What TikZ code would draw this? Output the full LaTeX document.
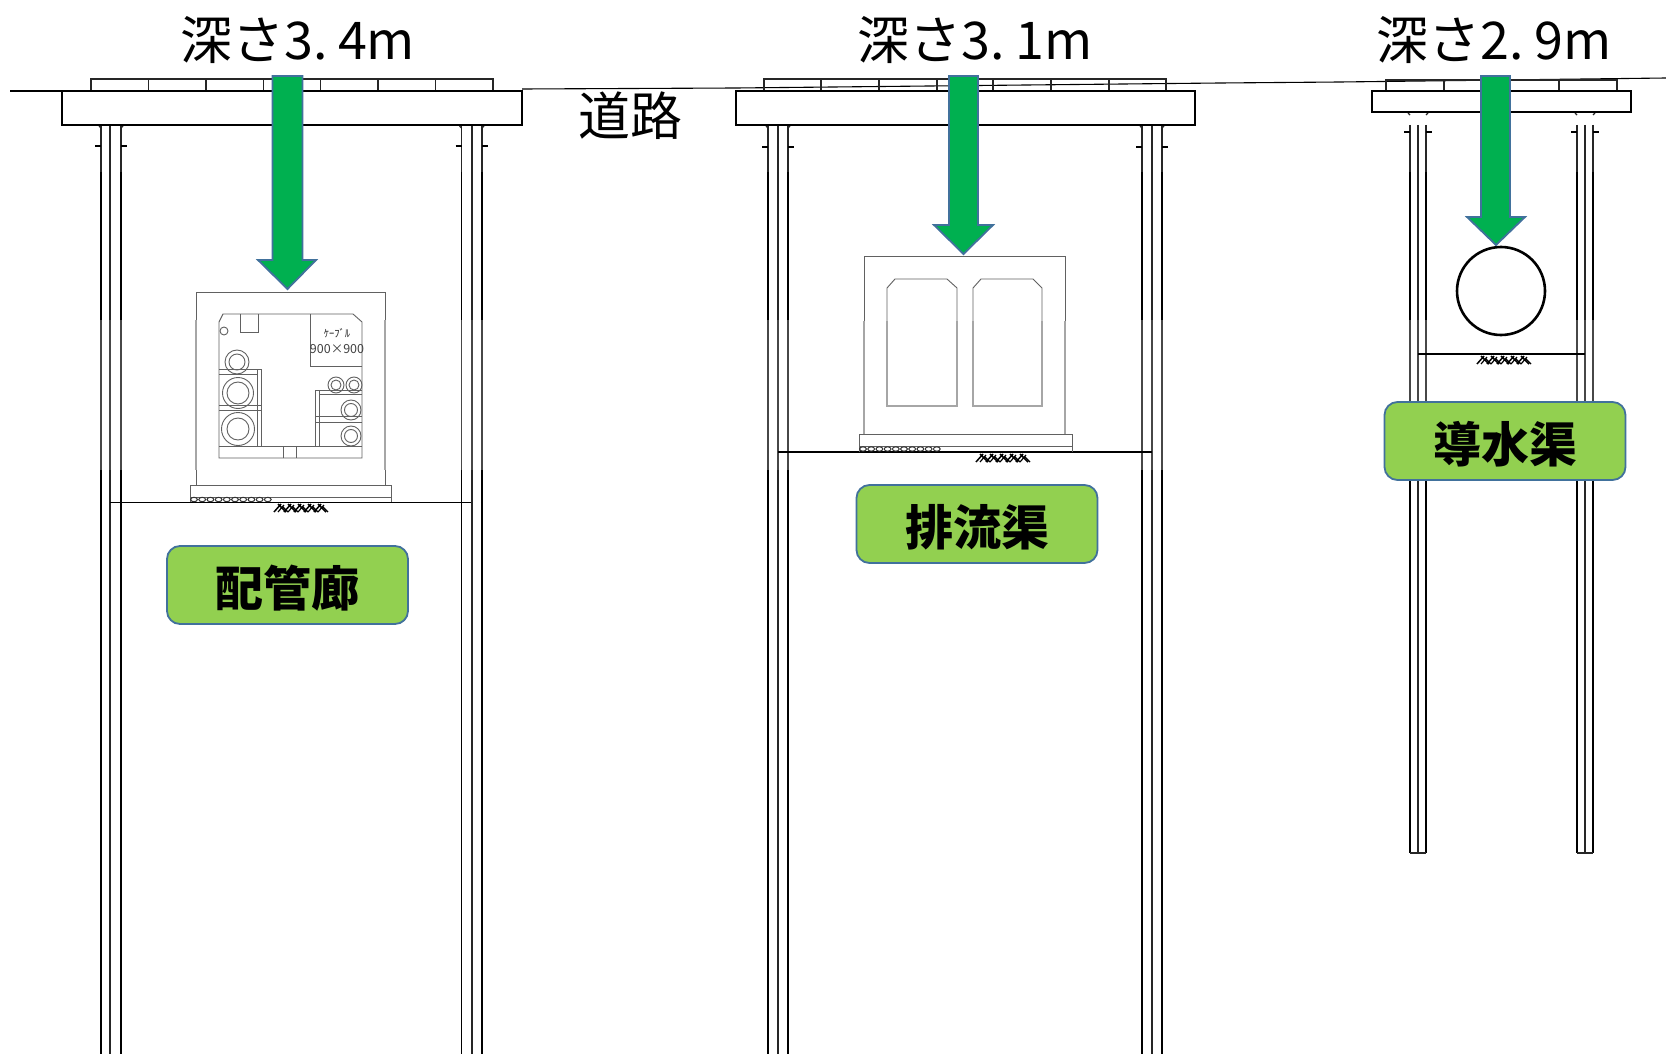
\documentclass[tikz,border=0pt]{standalone}
\usepackage{fontspec}
\setmainfont{Noto Sans CJK JP}
\definecolor{arrowgreen}{HTML}{00B050}
\definecolor{arrowedge}{HTML}{41719C}
\definecolor{labelgreen}{HTML}{92D050}
\tikzset{
  ink/.style={draw=black,line width=1.8pt},
  inkthin/.style={draw=black!85,line width=1.2pt},
  inkfade/.style={draw=black!72,line width=1.5pt},
  cad/.style={draw=black!62,line width=.9pt},
  cadfade/.style={draw=black!35,line width=1.4pt},
  slab/.style={draw=black,line width=1.8pt,fill=white},
  deptharrow/.style={draw=arrowedge,line width=1.8pt,fill=arrowgreen,line join=miter},
  depthlabel/.style={font=\fontsize{52}{52}\selectfont,inner sep=0pt,text=black},
  tag/.style={draw=arrowedge,line width=1.8pt,fill=labelgreen,rounded corners=13pt,minimum width=241pt,minimum height=78pt,inner sep=0pt,font=\bfseries\fontsize{48}{48}\selectfont,text=black},
}
\newcommand{\tagtext}[1]{\raisebox{-21pt}[0pt][0pt]{#1}}
\newcommand{\pilepair}[4]{%
  \draw[inkthin] (#1,125) -- (#1,172) (#2,125) -- (#2,172) (#3,125) -- (#3,172);
  \draw[ink] (#1,172) -- (#1,320) (#3,172) -- (#3,320);
  \draw[inkthin] (#2,172) -- (#2,320);
  \draw[inkfade] (#1,320) -- (#1,470) (#2,320) -- (#2,470) (#3,320) -- (#3,470);
  \draw[ink] (#1,470) -- (#1,#4) (#3,470) -- (#3,#4);
  \draw[inkthin] (#2,470) -- (#2,#4);
}
\newcommand{\pileticks}[4]{%
  \draw[ink] (#1-6,#4) -- (#1,#4) (#3,#4) -- (#3+6,#4);
  \draw[inkthin] (#1-2,#2) -- (#1,#2+2) (#3+2,#2) -- (#3,#2+2);
}
\newcommand{\groundmark}[2]{%
  \foreach \k in {0,...,4}{
    \draw[black,line width=1.5pt] (#1+\k*10,#2+9) -- (#1+\k*10+7,#2+1) (#1+\k*10+4,#2+1) -- (#1+\k*10+12,#2+9);
    \draw[black,line width=1.2pt] (#1+\k*10+4,#2+9) -- (#1+\k*10+10,#2+2) (#1+\k*10+8,#2+3) -- (#1+\k*10+14,#2+9);
  }
}
\newcommand{\gravel}[3]{%
  \foreach \k in {0,...,9}{
    \draw[black!80,line width=1pt] (#1+\k*8.2+4,#3) ellipse (3.4 and 2.2);
  }
}
\begin{document}
\begin{tikzpicture}[x=1pt,y=-1pt]
\useasboundingbox (0,0) rectangle (1666,1054);
\fill[white] (0,0) rectangle (1666,1054);
%% piles
\pilepair{101}{110}{121}{1054}
\pilepair{461.5}{472}{482}{1054}
\pilepair{768}{778}{788}{1054}
\pilepair{1142}{1152}{1162}{1054}
\pilepair{1410}{1418}{1426}{853}
\pilepair{1577}{1585}{1593}{853}
\draw[inkthin] (1410,853) -- (1426,853) (1577,853) -- (1593,853);
\pileticks{101}{126}{121}{146}
\pileticks{461.5}{126}{482}{146}
\pileticks{768}{126}{788}{147}
\pileticks{1142}{126}{1162}{147}
\pileticks{1410}{113}{1426}{132}
\pileticks{1577}{113}{1593}{132}
%% road surface
\draw[black,line width=1.1pt] (10,91) -- (62,91);
\draw[black,line width=1.1pt] (522,89) -- (736,88) -- (1220,83) -- (1340,82) -- (1666,78);
%% road plates
\draw[inkthin,line width=1.5pt] (91,90) -- (91,79) -- (493,79) -- (493,90);
\foreach \a in {148.4,205.9,263.3,320.7,378.1,435.6}{\draw[inkthin,line width=1.5pt] (\a,79) -- (\a,90);}
\draw[inkthin,line width=1.5pt] (764,90) -- (764,79) -- (1166,79) -- (1166,90);
\foreach \a in {821,879,937,993,1051,1109}{\draw[inkthin,line width=1.5pt] (\a,79) -- (\a,90);}
\draw[inkthin,line width=1.5pt] (1386,91) -- (1386,80) -- (1617,80) -- (1617,91);
\foreach \a in {1444,1502,1559}{\draw[inkthin,line width=1.5pt] (\a,80) -- (\a,91);}
%% slabs
\draw[slab] (62,91) rectangle (522,125);
\draw[slab] (736,91) rectangle (1195,125);
\draw[slab] (1372,91) rectangle (1631,112);
%% floors
\draw[black,line width=1.4pt] (110,502.5) -- (471,502.5);
\draw[black,line width=1.4pt] (778,452) -- (1152,452);
\draw[black,line width=1.4pt] (1418,354) -- (1585,354);
%% culvert 1
\draw[cad] (196,320) -- (196,292) -- (385,292) -- (385,320);
\draw[cadfade] (196,320) -- (196,470) (385,320) -- (385,470);
\draw[cad] (196,470) -- (196,485) (385,470) -- (385,485);
\draw[cad] (190,502) -- (190,485) -- (391,485) -- (391,502) (190,497) -- (391,497);
\gravel{190}{273}{499.5}
\groundmark{274}{503}
\draw[cad] (219,458) -- (219,322) -- (223,314) -- (353,314) -- (362,322) -- (362,458) -- cycle;
\draw[cad] (219,446) -- (362,446);
\draw[cad] (283,458) -- (283,446) -- (296,446) -- (296,458);
\draw[cad] (240,314) -- (240,332) -- (258,332) -- (258,314);
\draw[cad] (224,331) circle (4);
\draw[cad] (310,314) -- (310,366) -- (362,366);
\node[inner sep=0pt,font=\fontsize{10.5}{10.5}\selectfont,text=black!85] (cablename) at (337,333) {ｹｰﾌﾞﾙ};
\node[inner sep=0pt,font=\fontsize{12.5}{12.5}\selectfont,text=black!75] (cablesize) at (337,349) {900×900};
\foreach \cx/\cy/\ra/\rb in {237/362/12/8,238/393/15.5/11,238/429/16.5/11,336/385/8/5,354/385/8/5,351/410/10/6.5,351/436/10/6.5}{
  \draw[cad] (\cx,\cy) circle (\ra);
  \draw[cad] (\cx,\cy) circle (\rb);
}
\draw[cad] (219,369) -- (261,369) (219,374) -- (257,374) (219,405) -- (261,405) (219,410) -- (261,410);
\draw[cad] (257,369) -- (257,446) (261,369) -- (261,446);
\draw[cad] (315,390) -- (362,390) (319,394) -- (362,394) (315,416) -- (362,416) (315,422) -- (362,422);
\draw[cad] (315,390) -- (315,446) (319,390) -- (319,446);
%% culvert 2
\draw[cad] (864,321) -- (864,256) -- (1065,256) -- (1065,321);
\draw[cadfade] (864,321) -- (864,434) (1065,321) -- (1065,434);
\draw[cad] (859,452) -- (859,434) -- (1072,434) -- (1072,452) (859,446) -- (1072,446);
\gravel{859}{942}{449}
\groundmark{976}{453}
\draw[cad] (887,321) -- (887,288) -- (895,279) -- (947,279) -- (957,288) -- (957,321);
\draw[cadfade] (887,321) -- (887,406) -- (957,406) -- (957,321);
\draw[cad] (973,321) -- (973,288) -- (981,279) -- (1033,279) -- (1042,288) -- (1042,321);
\draw[cadfade] (973,321) -- (973,406) -- (1042,406) -- (1042,321);
%% pipe 3
\draw[black,line width=2.6pt] (1501,291) circle (44);
\groundmark{1477}{355}
%% depth arrows
\draw[deptharrow] (272.5,76) -- (302.5,76) -- (302.5,260) -- (316,260) -- (287.5,289) -- (258,260) -- (272.5,260) -- cycle;
\draw[deptharrow] (949,76) -- (978,76) -- (978,225) -- (993,225) -- (963.5,254) -- (934,225) -- (949,225) -- cycle;
\draw[deptharrow] (1481,76) -- (1510,76) -- (1510,217) -- (1525,217) -- (1496,245) -- (1467,217) -- (1481,217) -- cycle;
%% labels
\node[depthlabel] (d1) at (298,40) {深さ3.\kern10pt 4m};
\node[depthlabel] (d2) at (975,40) {深さ3.\kern10pt 1m};
\node[depthlabel] (d3) at (1494,40) {深さ2.\kern10pt 9m};
\node[inner sep=0pt,font=\fontsize{52}{52}\selectfont] (road) at (630,116) {道路};
\node[tag] (t1) at (287.5,585) {\tagtext{配管廊}};
\node[tag] (t2) at (977,524) {\tagtext{排流渠}};
\node[tag] (t3) at (1505,441) {\tagtext{導水渠}};
\end{tikzpicture}
\end{document}
